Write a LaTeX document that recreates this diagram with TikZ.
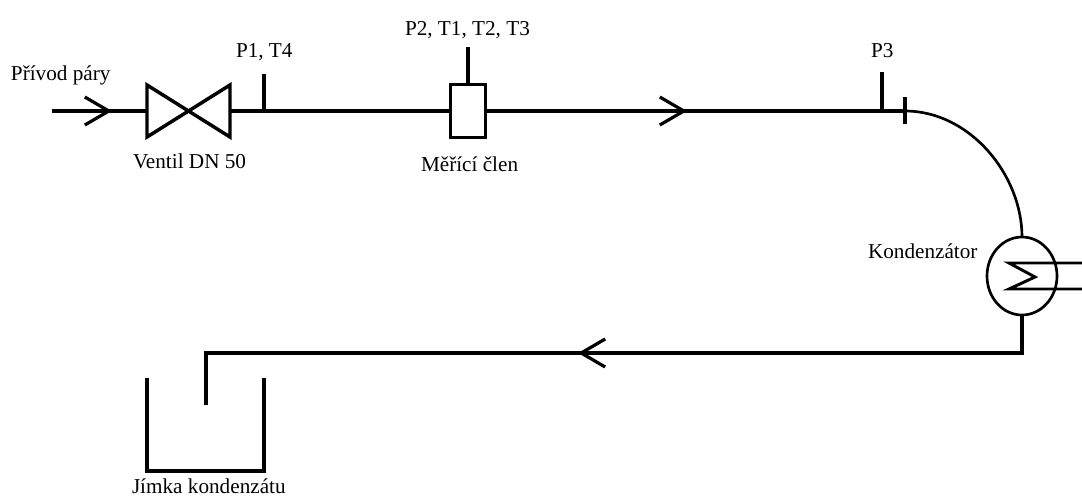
\documentclass[tikz,border=0pt]{standalone}
\usepackage{fontspec}
\setmainfont{Liberation Serif}
\usetikzlibrary{arrows.meta,shapes.geometric}

\begin{document}
\begin{tikzpicture}[x=0.75pt,y=-0.75pt,
                pipe/.style = {line width=2.6pt, line join=miter},
                thinpipe/.style = {line width=2pt},
                flow/.style = {pipe, -{Straight Barb[length=18pt,width=21pt,line width=2.4pt]}},
                label/.style = {anchor=base west, inner sep=0pt, font=\fontsize{15.9}{18}\selectfont},
                every node/.style = {outer sep=0pt}
                ]
                \useasboundingbox (0,0) rectangle (1082,497);
                % nodes
                \node[draw, pipe, rectangle, minimum width=26pt, minimum height=40pt, inner sep=0pt] (clen) at (468,111) {};
                \node[draw, thinpipe, ellipse, minimum width=52.5pt, minimum height=58.5pt, inner sep=0pt] (kond) at (1022,276) {};
                \coordinate (start) at (52,111);
                \coordinate (tip1) at (112,111);
                \coordinate (ventilL) at (147,111);
                \coordinate (ventilR) at (230,111);
                \coordinate (p1) at (264,111);
                \coordinate (p1top) at (264,74);
                \coordinate (clentop) at (468,47);
                \coordinate (tip2) at (687,111);
                \coordinate (p3) at (882,111);
                \coordinate (p3top) at (882,72);
                \coordinate (konec) at (905,111);
                \coordinate (tip3) at (578,353);
                \coordinate (roh1) at (1022,353);
                \coordinate (roh2) at (206,353);
                \coordinate (vytok) at (206,405);
                % pipe
                \draw[pipe] (start) -- (ventilL);
                \draw[flow] (start) -- (tip1);
                \draw[pipe, line join=miter] (147,85) -- (230,137) -- (230,85) -- (147,137) -- cycle;
                \draw[pipe] (ventilR) -- (clen.west);
                \draw[pipe] (p1) -- (p1top);
                \draw[pipe] (clen.north) -- (clentop);
                \draw[pipe] (clen.east) -- (konec);
                \draw[flow] (clen.east) -- (tip2);
                \draw[pipe] (p3) -- (p3top);
                \draw[pipe] (905,97) -- (905,124);
                \draw[thinpipe] (konec) .. controls (970,111) and (1022,175) .. (kond.north);
                \draw[pipe] (kond.south) -- (roh1) -- (roh2) -- (vytok);
                \draw[flow] (roh1) -- (tip3);
                % condenser coil
                \draw[line width=2.2pt] (1082,263) -- (1009,263) -- (1035,277) -- (1009,289) -- (1082,289);
                % tank
                \draw[pipe] (147,378) -- (147,471) -- (264,471) -- (264,378);
                % labels
                \node[label] (privod) at (11,80) {Přívod páry};
                \node[label] (p1lab) at (236,57) {P1, T4};
                \node[label] (p2lab) at (405,35) {P2, T1, T2, T3};
                \node[label] (p3lab) at (871,57) {P3};
                \node[label] (ventillab) at (133,168) {Ventil DN 50};
                \node[label] (clenlab) at (421,171) {Měřící člen};
                \node[label] (kondlab) at (868,258) {Kondenzátor};
                \node[label] (jimkalab) at (132,493) {Jímka kondenzátu};
            \end{tikzpicture}
\end{document}
